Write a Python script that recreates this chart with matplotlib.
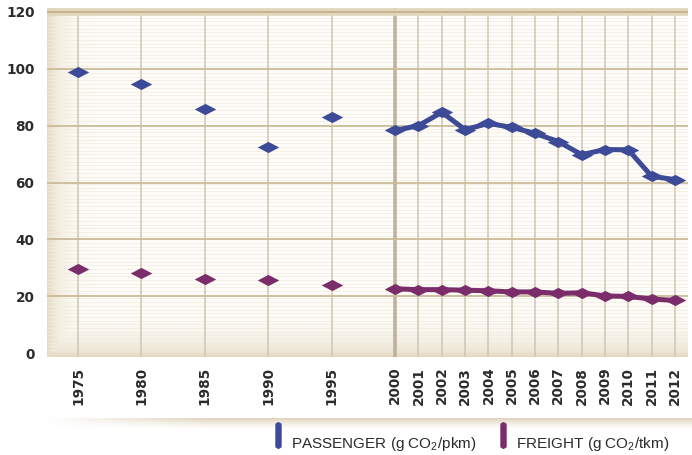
"""
CO2 intensity chart: passenger vs freight (g CO2 per pkm / tkm), 1975-2012
"""

import numpy as np
import matplotlib
matplotlib.use("Agg")
import matplotlib.pyplot as plt
from matplotlib.path import Path
from matplotlib.patches import FancyBboxPatch

# data
years = [1975, 1980, 1985, 1990, 1995, 2000, 2001, 2002, 2003, 2004,
         2005, 2006, 2007, 2008, 2009, 2010, 2011, 2012]
passenger = [99, 94.5, 86, 72.5, 83, 78.3, 80, 84.7, 78.6, 80.8,
             79.4, 77.3, 74.4, 69.8, 71.6, 71.5, 62.2, 61]
freight = [29.4, 28, 26.2, 25.6, 23.9, 22.6, 22.3, 22.3, 22.1, 21.9,
           21.5, 21.5, 21.0, 21.2, 20.1, 19.9, 19.0, 18.5]
series_names = ['PASSENGER (g CO$_2$/pkm)', 'FREIGHT (g CO$_2$/tkm)']
series_colors = ['#3d4a97', '#7a2d6a']
y_ticks = [0, 20, 40, 60, 80, 100, 120]

plt.rcParams['mathtext.fontset'] = 'custom'
plt.rcParams['mathtext.rm'] = 'Liberation Sans'
plt.rcParams['mathtext.it'] = 'Liberation Sans'

years = np.array(years)
# five-year steps are drawn wider than the yearly ones
wide = 2.72
xpos = np.where(years <= 2000, (years - 1975) / 5 * wide,
                5 * wide + (years - 2000))
joined = years >= 2000

fig = plt.figure(figsize=(6.92, 4.55), dpi=100)
fig.patch.set_facecolor('white')
ax = fig.add_axes([47 / 692, 1 - 357 / 455, 641 / 692, 349 / 455])

# 배경 그라데이션 (left / bottom edge shading)
gx = np.linspace(0, 1, 400)[None, :]
gy = np.linspace(0, 1, 200)[:, None]
shade = np.maximum(np.exp(-gx / 0.022), np.exp(-gy / 0.045))
base = np.array([0.996, 0.992, 0.978])
edge = np.array([0.90, 0.86, 0.77])
bg = base[None, None, :] * (1 - shade[..., None]) + edge[None, None, :] * shade[..., None]
ax.imshow(bg, extent=[0, 1, 0, 1], transform=ax.transAxes, aspect='auto',
          origin='lower', zorder=0)

xmin, xmax = -1.33, xpos[-1] + 0.56
ax.set_xlim(xmin, xmax)
ax.set_ylim(-1.4, 121.4)

# faint stripes
for yy in np.arange(1, 120, 1.3):
    ax.axhline(yy, color='#f2ece0', lw=0.5, zorder=0.5)

# grid
for xv in xpos:
    ax.axvline(xv, color='#cfc5b2', lw=1.1, zorder=1)
ax.axvline(xpos[years == 2000][0], color='#b9ad96', lw=2.8, alpha=0.8, zorder=1)
for yv in y_ticks[1:-1]:
    ax.axhline(yv, color='#cbbb99', lw=1.3, zorder=1)
ax.axhline(120, color='#e2d6bd', lw=5.5, zorder=1)
ax.axhline(120, color='#c5b08c', lw=1.3, zorder=1)

# markers (flattened diamond)
diamond = Path([(-1, 0), (0, 0.52), (1, 0), (0, -0.52), (-1, 0)],
               [Path.MOVETO, Path.LINETO, Path.LINETO, Path.LINETO, Path.CLOSEPOLY])
for vals, col in zip([passenger, freight], series_colors):
    vals = np.array(vals)
    ax.plot(xpos[joined], vals[joined], color=col, lw=3.6, zorder=3,
            solid_joinstyle='round')
    ax.plot(xpos, vals, ls='none', marker=diamond, markersize=15.5,
            color=col, markeredgewidth=0, zorder=4)

for s in ax.spines.values():
    s.set_visible(False)
ax.set_yticks(y_ticks)
ax.set_yticklabels([str(v) for v in y_ticks], fontsize=9.8, fontweight='bold',
                   color='#2b2b2b')
ax.set_xticks(xpos)
ax.set_xticklabels([str(y) for y in years], rotation=90, fontsize=9.8,
                   fontweight='bold', color='#2b2b2b')
ax.tick_params(axis='y', length=0, pad=9)
ax.tick_params(axis='x', length=0, pad=7)

# 하단 음영 띠 (darkest at the top, fading down)
band = fig.add_axes([45 / 692, 1 - 430 / 455, 647 / 692, 12 / 455])
bx = np.linspace(0, 1, 300)[None, :]
by = np.linspace(0, 1, 60)[:, None]
alpha = np.clip(by / 0.9, 0, 1) ** 1.6 * np.clip(bx / 0.25, 0, 1)
alpha[-4:, :] *= 0.35
rgba = np.zeros((60, 300, 4))
rgba[..., :3] = [0.84, 0.78, 0.66]
rgba[..., 3] = alpha * 0.8
band.imshow(rgba, extent=[0, 1, 0, 1], aspect='auto', origin='lower')
band.axis('off')

# legend
for name, col, lx in zip(series_names, series_colors, [276, 501]):
    fig.patches.append(FancyBboxPatch((lx / 692, 1 - 448 / 455), 5 / 692, 25 / 455,
                                      boxstyle='round,pad=0,rounding_size=0.004',
                                      transform=fig.transFigure, color=col, zorder=5))
    fig.text((lx + 15) / 692, 1 - 444 / 455, name, ha='left', va='center',
             fontsize=11, color='#2b2b2b', family='Liberation Sans')

plt.savefig('out.png', dpi=100, facecolor='white')
plt.close()
